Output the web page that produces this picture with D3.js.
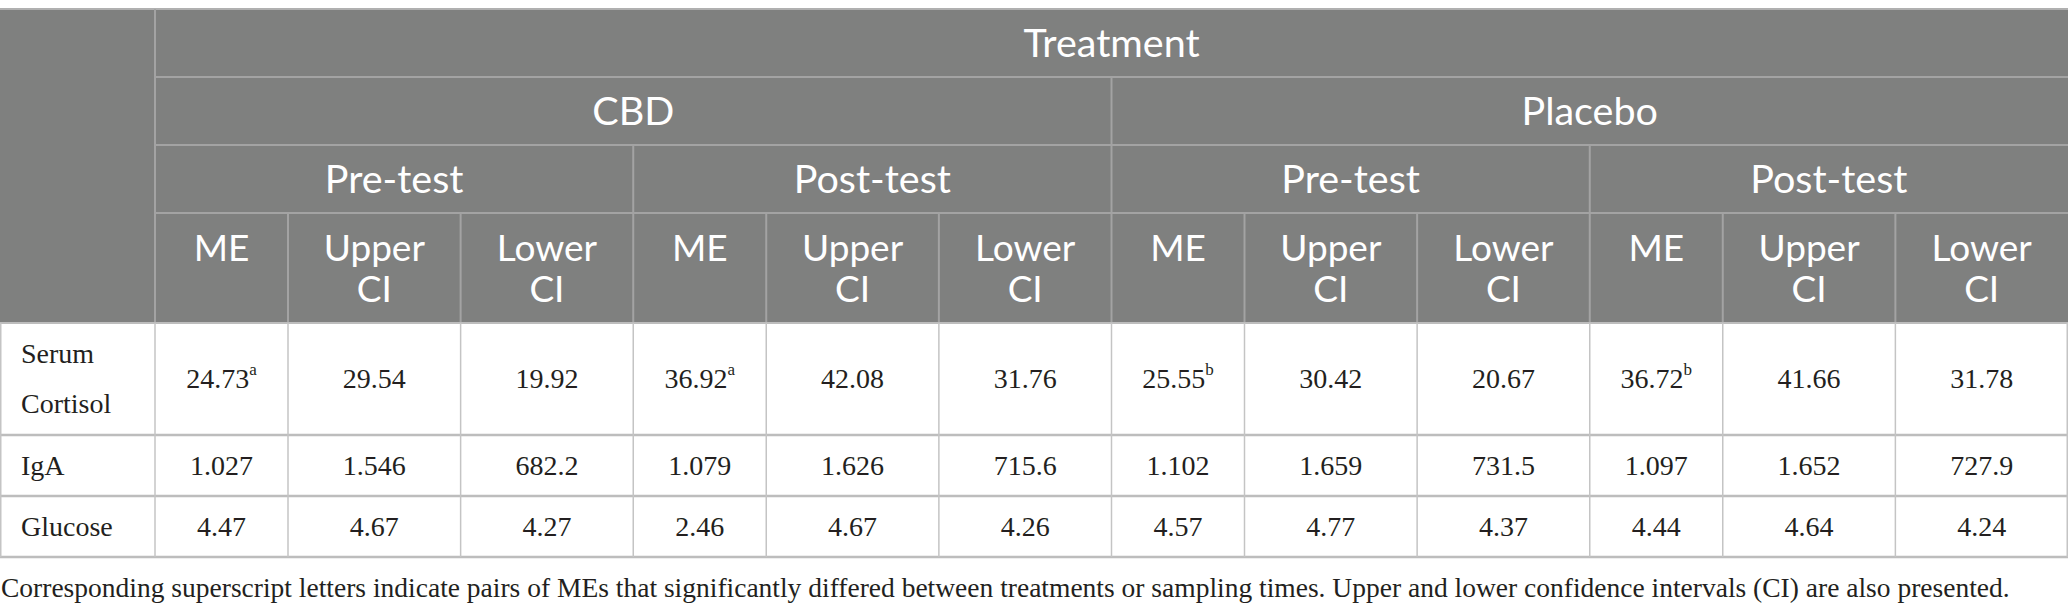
<!DOCTYPE html>
<html>
<head>
<meta charset="utf-8">
<script src="https://cdn.jsdelivr.net/npm/d3@7"></script>
<style>
  html, body { margin: 0; padding: 0; background: #fff; }
  svg { display: block; }
</style>
</head>
<body>
<div id="table"></div>
<script>
// ---- data ----
const treatments = ["CBD", "Placebo"];
const times = ["Pre-test", "Post-test"];
const stats = ["ME", "Upper CI", "Lower CI"];
const measures = ["Serum Cortisol", "IgA", "Glucose"];

const serumCortisol = ["24.73", "29.54", "19.92", "36.92", "42.08", "31.76", "25.55", "30.42", "20.67", "36.72", "41.66", "31.78"];
const iga = ["1.027", "1.546", "682.2", "1.079", "1.626", "715.6", "1.102", "1.659", "731.5", "1.097", "1.652", "727.9"];
const glucose = ["4.47", "4.67", "4.27", "2.46", "4.67", "4.26", "4.57", "4.77", "4.37", "4.44", "4.64", "4.24"];
const serumSup = ["a", "", "", "a", "", "", "b", "", "", "b", "", ""];
const igaSup = ["", "", "", "", "", "", "", "", "", "", "", ""];
const glucoseSup = ["", "", "", "", "", "", "", "", "", "", "", ""];

const caption = "Corresponding superscript letters indicate pairs of MEs that significantly differed between treatments or sampling times. Upper and lower confidence intervals (CI) are also presented.";

const rows = [serumCortisol, iga, glucose];
const sups = [serumSup, igaSup, glucoseSup];

// ---- layout ----
const width = 2068, height = 614;
const labelW = 155;
const meW = 133;
const groupW = (width - labelW) / 4;
const ciW = (groupW - meW) / 2;

const headBg = "#7f807f", headLine = "#a3a3a3";
const bodyLine = "#c4c4c4", textColor = "#231f20";
const headFont = "Lato, 'Open Sans', sans-serif";
const bodyFont = "'Liberation Serif', 'DejaVu Serif', serif";

// column edges
const colW = [labelW];
treatments.forEach(() => times.forEach(() => stats.forEach((s, i) => colW.push(i === 0 ? meW : ciW))));
const colX = [0, ...d3.cumsum(colW)];

// row edges: 4 header rows then 3 body rows
const rowH = [68, 68, 68, 110, 112, 61, 61];
const tableTop = 9;
const rowY = [tableTop, ...d3.cumsum(rowH).map(d => d + tableTop)];

const svg = d3.select("#table").append("svg")
  .attr("width", width)
  .attr("height", height);

// header background
svg.append("rect")
  .attr("x", 0).attr("y", rowY[0])
  .attr("width", width).attr("height", rowY[4] - rowY[0])
  .attr("fill", headBg);

const hdr = svg.append("g").attr("font-family", headFont).attr("fill", "#fff")
  .attr("text-anchor", "middle").attr("font-size", 39.5);

function line(g, x1, y1, x2, y2, color, w) {
  g.append("line").attr("x1", x1).attr("y1", y1).attr("x2", x2).attr("y2", y2)
    .attr("stroke", color).attr("stroke-width", w);
}

const lines = svg.append("g");

// header lines
line(lines, 0, rowY[0], width, rowY[0], "#b0b0b0", 2);
[1, 2, 3].forEach(r => line(lines, labelW, rowY[r], width, rowY[r], headLine, 2));
line(lines, labelW, rowY[0], labelW, rowY[4], headLine, 2);

// row 1: Treatment
hdr.append("text")
  .attr("x", (labelW + width) / 2).attr("y", (rowY[0] + rowY[1]) / 2)
  .attr("dy", "0.36em").text("Treatment");

// row 2: treatments
treatments.forEach((t, ti) => {
  const x0 = colX[1 + ti * 6], x1 = colX[1 + ti * 6 + 6];
  hdr.append("text").attr("x", (x0 + x1) / 2).attr("y", (rowY[1] + rowY[2]) / 2)
    .attr("dy", "0.36em").text(t);
  if (ti > 0) line(lines, x0, rowY[1], x0, rowY[4], headLine, 2);

  // row 3: times
  times.forEach((tm, mi) => {
    const c = 1 + ti * 6 + mi * 3;
    const a = colX[c], b = colX[c + 3];
    hdr.append("text").attr("x", (a + b) / 2).attr("y", (rowY[2] + rowY[3]) / 2)
      .attr("dy", "0.36em").text(tm);
    if (mi > 0) line(lines, a, rowY[2], a, rowY[4], headLine, 2);

    // row 4: stats (two-line labels)
    stats.forEach((s, si) => {
      const sa = colX[c + si], sb = colX[c + si + 1];
      if (si > 0) line(lines, sa, rowY[3], sa, rowY[4], headLine, 2);
      const words = s.split(" ");
      const cy = (rowY[3] + rowY[4]) / 2;
      const lh = 41;
      const t = hdr.append("text").attr("x", (sa + sb) / 2).attr("font-size", 37);
      words.forEach((w, wi) => {
        t.append("tspan").attr("x", (sa + sb) / 2)
          .attr("y", cy - lh / 2 + wi * lh)
          .attr("dy", "0.36em").text(w);
      });
    });
  });
});

// body
const body = svg.append("g").attr("font-family", bodyFont).attr("fill", textColor)
  .attr("font-size", 28);

measures.forEach((m, ri) => {
  const y0 = rowY[4 + ri], y1 = rowY[5 + ri];
  const cy = (y0 + y1) / 2;
  const words = m.split(" ");
  const lh = 50;
  const lab = body.append("text").attr("x", 21);
  words.forEach((w, wi) => {
    lab.append("tspan").attr("x", 21)
      .attr("y", cy - (words.length - 1) * lh / 2 + wi * lh)
      .attr("dy", "0.33em").text(w);
  });

  rows[ri].forEach((v, ci) => {
    const a = colX[ci + 1], b = colX[ci + 2];
    const t = body.append("text").attr("text-anchor", "middle")
      .attr("x", (a + b) / 2).attr("y", cy).attr("dy", "0.33em");
    t.append("tspan").text(v);
    if (sups[ri][ci]) {
      t.append("tspan").attr("font-size", 17).attr("dy", "-0.75em").text(sups[ri][ci]);
    }
  });
});

// body grid
[4, 5, 6, 7].forEach(r => line(lines, 0, rowY[r], width, rowY[r], "#bdbdbd", r === 4 ? 2 : 2.5));
colX.forEach(x => {
  const xx = Math.min(Math.max(x, 0.75), width - 0.75);
  line(lines, xx, rowY[4], xx, rowY[7], bodyLine, 1.5);
});
lines.raise();

// caption
svg.append("text")
  .attr("x", 1).attr("y", 597)
  .attr("font-family", bodyFont).attr("font-size", 27.5)
  .attr("fill", textColor)
  .text(caption);
</script>
</body>
</html>
